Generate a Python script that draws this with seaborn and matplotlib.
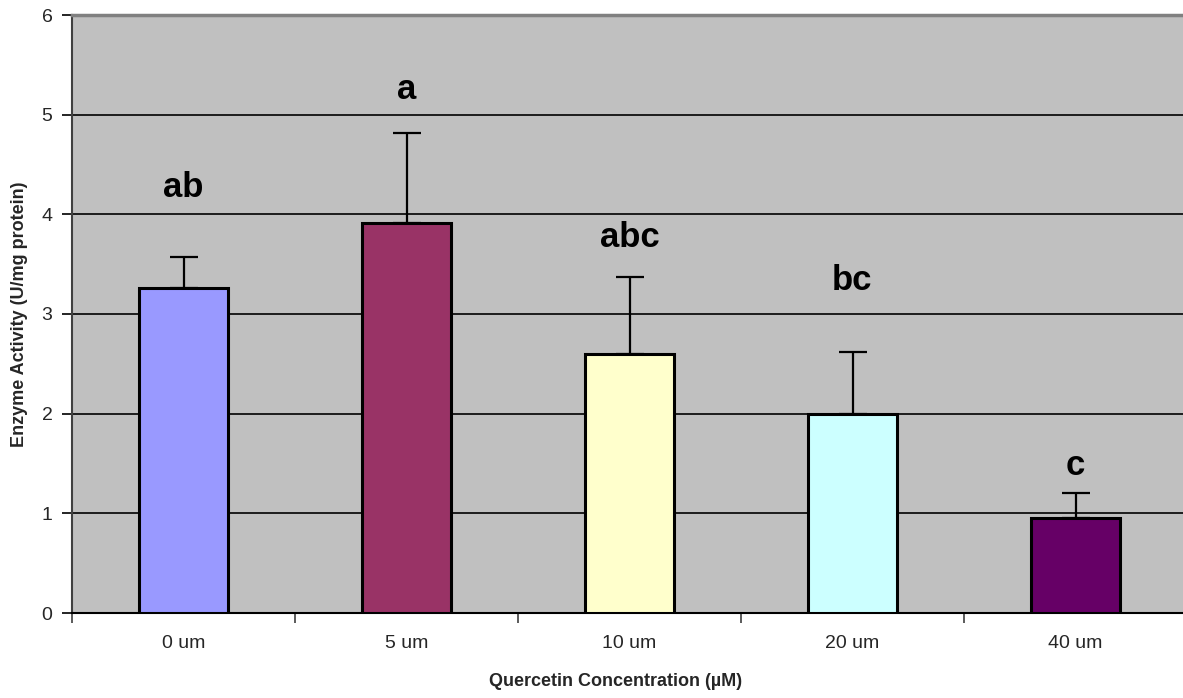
"""
Quercetin concentration vs enzyme activity, bar chart with one-sided error bars.
"""
import matplotlib
matplotlib.use("Agg")
import matplotlib.pyplot as plt
import pandas as pd
import seaborn as sns

concentrations = ["0 um", "5 um", "10 um", "20 um", "40 um"]
activity = [3.26, 3.91, 2.60, 2.00, 0.95]
activity_err = [0.31, 0.91, 0.77, 0.62, 0.25]
letters = ["ab", "a", "abc", "bc", "c"]
letter_y = [4.27, 5.25, 3.77, 3.34, 1.48]
bar_colors = ["#9999FF", "#993366", "#FFFFCC", "#CCFFFF", "#660066"]

sns.set_theme(style="white")
plt.rcParams["font.family"] = ["Liberation Sans", "DejaVu Sans"]

df = pd.DataFrame({"conc": concentrations, "activity": activity})

fig = plt.figure(figsize=(11.83, 6.98), dpi=100)
# plot area runs a little past the right edge of the picture, as in the original
ax = fig.add_axes([72 / 1183, 85 / 698, 1115 / 1183, 598 / 698])
ax.set_facecolor("#C0C0C0")

sns.barplot(data=df, x="conc", y="activity", hue="conc", palette=bar_colors,
            saturation=1, legend=False, width=0.40, edgecolor="black",
            linewidth=2.2, ax=ax, zorder=3)

x = range(len(concentrations))
ax.errorbar(x, activity, yerr=[[0] * len(activity_err), activity_err],
            fmt="none", ecolor="black", elinewidth=1.6, capsize=10,
            capthick=1.6, zorder=4)

for i, (lab, ly) in enumerate(zip(letters, letter_y)):
    ax.text(i, ly, lab, ha="center", va="center", fontsize=25,
            fontweight="bold", color="black", zorder=5)

ax.set_xlim(-0.5, len(concentrations) - 0.5)
ax.set_ylim(0, 6)
ax.set_yticks(range(0, 7))
ax.yaxis.grid(True, color="black", linewidth=1.2, zorder=0)
ax.set_axisbelow(True)

# x ticks between categories, labels centred under bars
ax.set_xticks([i + 0.5 for i in range(-1, len(concentrations))], minor=False)
ax.set_xticklabels([])
ax.set_xticks(list(x), minor=True)
ax.set_xticklabels(concentrations, minor=True)
ax.tick_params(axis="x", which="major", length=7, width=1.2, color="#404040",
               direction="out", bottom=True)
ax.tick_params(axis="x", which="minor", length=0, labelsize=14, pad=16)
ax.tick_params(axis="y", length=7, width=1.2, color="black", direction="out",
               left=True, labelsize=14, pad=7)

ax.spines["right"].set_visible(False)
ax.spines["top"].set_color("#808080")
ax.spines["top"].set_linewidth(2.5)
ax.spines["left"].set_color("#404040")
ax.spines["left"].set_linewidth(1.5)
ax.spines["bottom"].set_color("black")
ax.spines["bottom"].set_linewidth(1.5)

ax.set_xlabel("Quercetin Concentration (\u00b5M)", fontsize=13, fontweight="bold",
              labelpad=14)
ax.set_ylabel("Enzyme Activity (U/mg protein)", fontsize=13, fontweight="bold",
              labelpad=10)
# keep the x label centred on the visible part of the figure
ax.xaxis.set_label_coords((616 - 72) / 1115, -0.1)

fig.savefig("out.png", dpi=100)
